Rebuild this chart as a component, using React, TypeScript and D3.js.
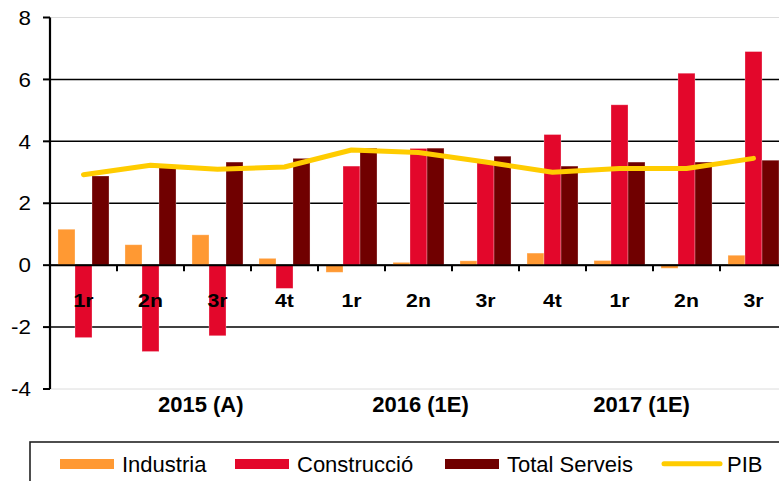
import React from "react";
import * as d3 from "d3";

const categories = ["1r", "2n", "3r", "4t", "1r", "2n", "3r", "4t", "1r", "2n", "3r"];
const industria = [1.16, 0.66, 0.98, 0.22, -0.23, 0.09, 0.14, 0.39, 0.15, -0.1, 0.32];
const construccio = [-2.34, -2.79, -2.28, -0.75, 3.2, 3.77, 3.35, 4.22, 5.18, 6.2, 6.9];
const serveis = [2.88, 3.15, 3.33, 3.45, 3.78, 3.78, 3.52, 3.2, 3.33, 3.33, 3.39];
const pib = [2.92, 3.23, 3.1, 3.17, 3.72, 3.64, 3.33, 3.0, 3.12, 3.12, 3.45];
const yearLabels = ["2015 (A)", "2016 (1E)", "2017 (1E)"];
const yTicks = [-4, -2, 0, 2, 4, 6, 8];

const seriesNames = ["Industria", "Construcció", "Total Serveis"];
const seriesColors = ["#FF9933", "#E3072B", "#700000"];
const pibColor = "#FFCC00";

const W = 779;
const H = 481;
const FONT = "'Liberation Sans', Arial, Helvetica, sans-serif";

export default function App() {
  const left = 50;
  const step = 67;
  const x0 = d3
    .scaleBand<number>()
    .domain(d3.range(categories.length))
    .range([left, left + step * categories.length])
    .padding(0);
  const x1 = d3
    .scaleBand<number>()
    .domain([0, 1, 2])
    .range([0, x0.bandwidth()])
    .paddingInner(0)
    .paddingOuter(0.47);
  const y = d3.scaleLinear().domain([-4, 8]).range([389, 17.5]);

  const series = [industria, construccio, serveis];
  const yearPos = [2.25, 5.53, 8.83];

  const line = d3
    .line<number>()
    .x((_, i) => (x0(i) as number) + x0.bandwidth() / 2)
    .y((d) => y(d));

  const right = W + 20;

  return (
    <svg
      width={W}
      height={H}
      style={{ position: "absolute", left: 0, top: 0, background: "#fff" }}
      fontFamily={FONT}
    >
      {yTicks.map((t) => (
        <line
          key={"g" + t}
          x1={left}
          x2={right}
          y1={y(t)}
          y2={y(t)}
          stroke={t === 8 || t === -4 ? "#dcdcdc" : "#000"}
          strokeWidth={t === 8 || t === -4 ? 1 : 1.5}
        />
      ))}
      {series.map((vals, s) =>
        vals.map((v, i) => {
          const bx = (x0(i) as number) + (x1(s) as number);
          const y0 = y(0);
          const yv = y(v);
          return (
            <rect
              key={`b${s}-${i}`}
              x={bx}
              y={Math.min(y0, yv)}
              width={x1.bandwidth()}
              height={Math.abs(yv - y0)}
              fill={seriesColors[s]}
              stroke="rgba(255,255,255,0.35)"
              strokeWidth={0.8}
            />
          );
        })
      )}
      <line x1={left} x2={right} y1={y(0)} y2={y(0)} stroke="#000" strokeWidth={2} />
      {d3.range(1, categories.length + 1).map((i) => (
        <line
          key={"ct" + i}
          x1={left + step * i}
          x2={left + step * i}
          y1={y(0)}
          y2={y(0) + 6}
          stroke="#000"
          strokeWidth={2}
        />
      ))}
      <path
        d={line(pib) || ""}
        fill="none"
        stroke={pibColor}
        strokeWidth={5}
        strokeLinejoin="round"
        strokeLinecap="round"
      />
      <line x1={left} x2={left} y1={y(8)} y2={y(-4)} stroke="#000" strokeWidth={2.2} />
      {yTicks.map((t) => (
        <g key={"yt" + t}>
          <line x1={left - 7} x2={left} y1={y(t)} y2={y(t)} stroke="#000" strokeWidth={2} />
          <text
            transform={`translate(31,${y(t)}) scale(1.12,1)`}
            textAnchor="end"
            dy="0.36em"
            fontSize={20}
            fill="#000"
          >
            {t}
          </text>
        </g>
      ))}
      {categories.map((c, i) => (
        <text
          key={"cl" + i}
          transform={`translate(${(x0(i) as number) + x0.bandwidth() / 2},307) scale(1.15,1)`}
          textAnchor="middle"
          fontSize={18.5}
          fontWeight="bold"
          fill="#000"
        >
          {c}
        </text>
      ))}
      {yearLabels.map((l, i) => (
        <text
          key={"yl" + i}
          x={left + step * yearPos[i]}
          y={411.5}
          textAnchor="middle"
          fontSize={22}
          fontWeight="bold"
          fill="#000"
        >
          {l}
        </text>
      ))}
      <rect x={30} y={442} width={800} height={60} fill="#fff" stroke="#222" strokeWidth={1.6} />
      {seriesNames.map((n, s) => {
        const sx = [60, 235, 445][s];
        return (
          <g key={"lg" + s}>
            <rect x={sx} y={459} width={54} height={10} fill={seriesColors[s]} />
            <text x={sx + 62} y={472} fontSize={22} fill="#000">
              {n}
            </text>
          </g>
        );
      })}
      <line
        x1={664}
        x2={720}
        y1={463.8}
        y2={463.8}
        stroke={pibColor}
        strokeWidth={5}
        strokeLinecap="round"
      />
      <text x={727} y={472} fontSize={22} fill="#000">
        PIB
      </text>
    </svg>
  );
}
